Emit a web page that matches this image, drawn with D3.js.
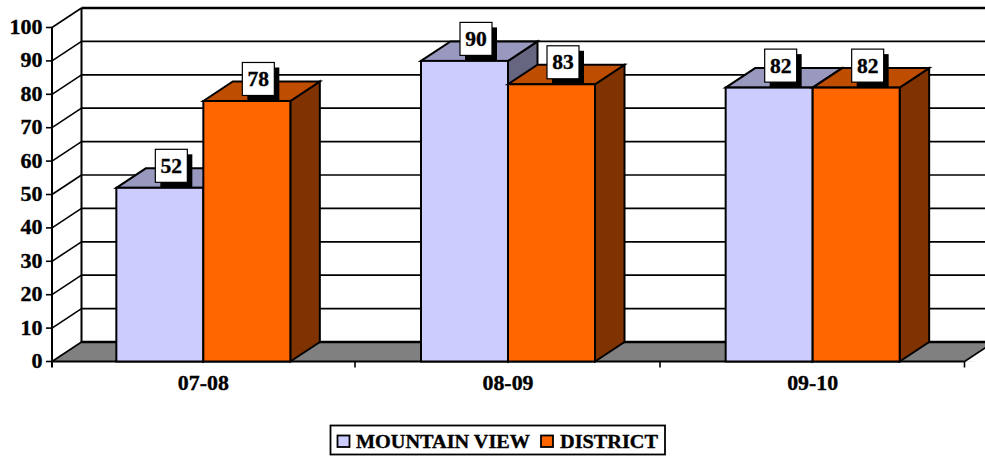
<!DOCTYPE html>
<html><head><meta charset="utf-8">
<script src="https://cdn.jsdelivr.net/npm/d3@7/dist/d3.min.js"></script>
<style>html,body{margin:0;padding:0;background:#fff;overflow:hidden}svg{display:block}
text{font-family:"Liberation Serif","Times New Roman",serif;font-weight:bold;fill:#000;stroke:#000;stroke-width:0.35px}</style>
</head><body><svg id="c" width="985" height="456"></svg>
<script>
const categories = ["07-08","08-09","09-10"];
const seriesNames = ["MOUNTAIN VIEW","DISTRICT"];
const mountainView = [52,90,82];
const district = [78,83,82];
const yTicks = d3.range(0,101,10);
const fills = {"MOUNTAIN VIEW":["#CCCCFF","#9999BF","#666680"],"DISTRICT":["#FF6600","#BF4D00","#803300"]};

const svg = d3.select("#c");
const dx = 29.5, dy = -19.5, stroke = "#000";
const y = d3.scaleLinear().domain([0,100]).range([361.5,27.5]);
const x = d3.scaleBand().domain(categories).range([51,965]);
const axisX = 52;
const barW = 87;
const inner = d3.scaleBand().domain(seriesNames).range([-barW,barW]);
const center = c => x(c)+x.bandwidth()/2;
const right = 985+40;
const poly = p => p.map(q=>q.join(",")).join(" ");

// floor
svg.append("polygon").attr("points",poly([[axisX,y(0)],[axisX+dx,y(0)+dy],[right,y(0)+dy],[right,y(0)]])).attr("fill","#808080");
// gridlines + wall
yTicks.forEach(t=>{
  const w = t===100?2.4:(t===0?2.4:1.7);
  svg.append("line").attr("x1",axisX+dx).attr("x2",right).attr("y1",y(t)+dy).attr("y2",y(t)+dy).attr("stroke",stroke).attr("stroke-width",w);
  svg.append("line").attr("x1",axisX).attr("x2",axisX+dx).attr("y1",y(t)).attr("y2",y(t)+dy).attr("stroke",stroke).attr("stroke-width",1.6);
  svg.append("line").attr("x1",axisX-6).attr("x2",axisX).attr("y1",y(t)).attr("y2",y(t)).attr("stroke",stroke).attr("stroke-width",1.6);
  const s = String(t);
  svg.append("text").attr("x",42.5-s.length*11).attr("y",y(t)+6.5).attr("font-size",20.5).attr("textLength",s.length*11).attr("lengthAdjust","spacingAndGlyphs").text(t);
});
// floor front right corner clip: white triangle under the last edge
svg.append("polygon").attr("points",poly([[964.5,y(0)],[964.5+dx,y(0)+dy],[right,y(0)+dy],[right,y(0)+2]])).attr("fill","#fff");
svg.append("line").attr("x1",964.5).attr("x2",964.5+dx).attr("y1",y(0)).attr("y2",y(0)+dy).attr("stroke",stroke).attr("stroke-width",1.6);
// axes
svg.append("line").attr("x1",axisX+dx).attr("x2",axisX+dx).attr("y1",y(100)+dy).attr("y2",y(0)+dy).attr("stroke",stroke).attr("stroke-width",2);
svg.append("line").attr("x1",axisX).attr("x2",axisX).attr("y1",y(100)).attr("y2",y(0)+6).attr("stroke",stroke).attr("stroke-width",2);
svg.append("line").attr("x1",axisX).attr("x2",964.5).attr("y1",y(0)).attr("y2",y(0)).attr("stroke",stroke).attr("stroke-width",2.2);
[355,660,964.5].forEach(v=>svg.append("line").attr("x1",v).attr("x2",v).attr("y1",y(0)).attr("y2",y(0)+6).attr("stroke",stroke).attr("stroke-width",1.6));
categories.forEach(c=>svg.append("text").attr("x",center(c)).attr("y",390).attr("text-anchor","middle").attr("font-size",21).attr("textLength",51).attr("lengthAdjust","spacingAndGlyphs").text(c));

// bars
const rows = categories.flatMap((c,i)=>[{c,s:seriesNames[0],v:mountainView[i]},{c,s:seriesNames[1],v:district[i]}]);
const g = svg.append("g").attr("stroke","#000").attr("stroke-width",2).attr("stroke-linejoin","miter");
rows.forEach(d=>{
  const x0 = center(d.c)+inner(d.s), x1 = x0+barW, t = y(d.v), b = y(0);
  const [fF,fT,fS] = fills[d.s];
  g.append("polygon").attr("points",poly([[x1,t],[x1+dx,t+dy],[x1+dx,b+dy],[x1,b]])).attr("fill",fS);
  g.append("polygon").attr("points",poly([[x0,t],[x0+dx,t+dy],[x1+dx,t+dy],[x1,t]])).attr("fill",fT);
  g.append("rect").attr("x",x0).attr("y",t).attr("width",barW).attr("height",b-t).attr("fill",fF);
});
// data labels
rows.forEach(d=>{
  const cx = center(d.c)+inner(d.s)+barW/2+11.5, bottom = y(d.v)-5.5, w=32, h=33;
  svg.append("rect").attr("x",cx-w/2+5).attr("y",bottom-h+5).attr("width",w).attr("height",h).attr("fill","#000");
  svg.append("rect").attr("x",cx-w/2).attr("y",bottom-h).attr("width",w).attr("height",h).attr("fill","#fff").attr("stroke","#000").attr("stroke-width",1.2);
  svg.append("text").attr("x",cx).attr("y",bottom-h/2+7).attr("text-anchor","middle").attr("font-size",21.5).text(d.v);
});
// legend
svg.append("rect").attr("x",330.5).attr("y",425.5).attr("width",334.5).attr("height",29).attr("fill","#fff").attr("stroke","#000").attr("stroke-width",1.8);
const legend = [{s:seriesNames[0],sx:337.5,tx:356,tl:174},{s:seriesNames[1],sx:541,tx:560,tl:98}];
legend.forEach(l=>{
  svg.append("rect").attr("x",l.sx).attr("y",435.5).attr("width",12).attr("height",11.5).attr("fill",fills[l.s][0]).attr("stroke","#000").attr("stroke-width",1.8);
  svg.append("text").attr("x",l.tx).attr("y",447.5).attr("font-size",18).attr("textLength",l.tl).attr("lengthAdjust","spacingAndGlyphs").text(l.s);
});
</script></body></html>
